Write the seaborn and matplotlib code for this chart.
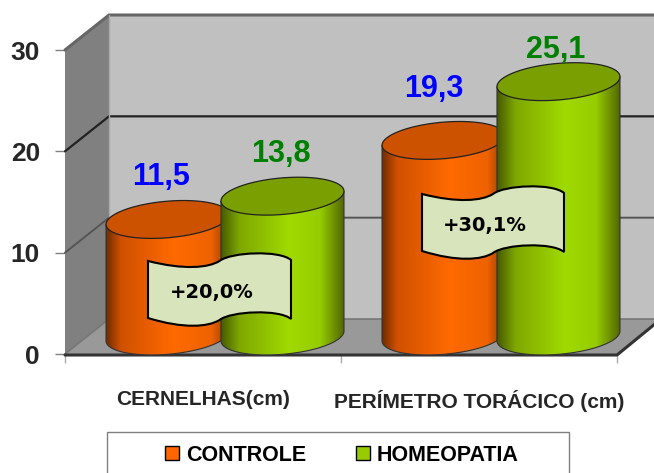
import matplotlib
matplotlib.use("Agg")
import matplotlib.pyplot as plt
import seaborn as sns
import numpy as np
import pandas as pd
from matplotlib.colors import LinearSegmentedColormap
from matplotlib.patches import Patch, PathPatch, Polygon, Rectangle
from matplotlib.path import Path
from matplotlib.transforms import Affine2D

# Chart values
categories = ["CERNELHAS(cm)", "PERÍMETRO TORÁCICO (cm)"]
series = ["CONTROLE", "HOMEOPATIA"]
controle = [11.5, 19.3]
homeopatia = [13.8, 25.1]
value_labels = [["11,5", "19,3"], ["13,8", "25,1"]]
y_ticks = [0, 10, 20, 30]
gains = ["+20,0%", "+30,1%"]

palette = {"CONTROLE": "#ff6600", "HOMEOPATIA": "#99cc00"}
top_colors = {"CONTROLE": "#cc5200", "HOMEOPATIA": "#7a9f00"}
label_colors = {"CONTROLE": "#0000ff", "HOMEOPATIA": "#008000"}
font = ["Liberation Sans", "DejaVu Sans"]

data = pd.DataFrame({
    "category": categories * 2,
    "series": [series[0]] * 2 + [series[1]] * 2,
    "value": controle + homeopatia,
})

sns.set_style("white")
W, H = 654, 473
fig = plt.figure(figsize=(W / 100, H / 100), dpi=100, facecolor="white")

# Everything decorative is placed in picture pixels, y going down
px = Affine2D().scale(1, -1).translate(0, H)


def axes_box(left, right, bottom, top):
    return [left / W, (H - bottom) / H, (right - left) / W, (bottom - top) / H]


# Front plane carries the axis, bars sit half way into the depth
ax = fig.add_axes(axes_box(65, 617, 354, 50))
ax_bars = fig.add_axes(axes_box(87, 639, 336, 32))
ax_bars.patch.set_alpha(0)

for a in (ax, ax_bars):
    a.set_xlim(-0.5, 1.5)
    a.set_ylim(0, 30)
    sns.despine(ax=a, left=True, bottom=True, top=True, right=True)
ax.patch.set_alpha(0)
ax.autoscale(False)

dx, dy = 44, -35
x0, x1 = 65, 617


def y_px(v):
    return H - ax.transData.transform((0, v))[1]


y0, y30 = y_px(0), y_px(30)
ax.add_patch(Polygon([(x0 + dx, y30 + dy), (x1 + dx, y30 + dy), (x1 + dx, y0 + dy), (x0 + dx, y0 + dy)],
                     fc="#c0c0c0", ec="none", transform=px, clip_on=False, zorder=1))
ax.add_patch(Polygon([(x0, y30), (x0 + dx, y30 + dy), (x0 + dx, y0 + dy), (x0, y0)],
                     fc="#808080", ec="none", transform=px, clip_on=False, zorder=1))
ax.add_patch(Polygon([(x0, y0), (x1, y0), (x1 + dx, y0 + dy), (x0 + dx, y0 + dy)],
                     fc="#999999", ec="none", transform=px, clip_on=False, zorder=1))

# Grid lines run across the back wall and down the side wall
grid_styles = {0: ("#777777", 1.2), 10: ("#555555", 1.4), 20: ("#222222", 1.6), 30: ("#666666", 2.2)}
for t in y_ticks:
    yy = y_px(t)
    col, lw = grid_styles[t]
    ax.plot([x0, x0 + dx, x1 + dx], [yy, yy + dy, yy + dy], color=col, lw=lw,
            transform=px, clip_on=False, zorder=2, solid_joinstyle="miter")
ax.plot([x0 + dx, x0 + dx], [y30 + dy, y0 + dy], color="#a8a8a8", lw=1, transform=px, clip_on=False, zorder=2)
ax.plot([x0, x1, x1 + dx], [y0 + 1, y0 + 1, y0 + dy], color="#333333", lw=2.2, transform=px, clip_on=False, zorder=3)

ax.set_yticks(y_ticks)
ax.set_yticklabels([str(t) for t in y_ticks], family=font, fontweight="bold", fontsize=19)
ax.set_xticks([0, 1])
ax.set_xticklabels(categories, family=font, fontweight="bold", fontsize=15)
ax.set_xticks([-0.5, 0.5, 1.5], minor=True)
ax.tick_params(axis="y", length=7, width=1, color="#808080", pad=11, left=True)
ax.tick_params(axis="x", which="major", length=0, pad=26)
ax.tick_params(axis="x", which="minor", length=6.5, width=1, color="#aaaaaa", bottom=True)

# Bars, whose geometry drives the cylinders
sns.barplot(data=data, x="category", y="value", hue="series", order=categories, hue_order=series,
            palette=palette, width=0.833, gap=-0.07, legend=False, ax=ax_bars)
ax_bars.set_xlim(-0.5, 1.5)
ax_bars.set_ylim(0, 30)
ax_bars.set_xlabel("")
ax_bars.set_ylabel("")
ax_bars.set_xticks([])
ax_bars.set_yticks([])
ax_bars.autoscale(False)
bars = list(ax_bars.patches)
for b in bars:
    b.set_visible(False)

orange_cmap = LinearSegmentedColormap.from_list(
    "o", [(0, "#6e2c00"), (0.12, "#d05000"), (0.55, "#ff6a00"), (0.85, "#ee6200"), (1, "#8c3a00")])
green_cmap = LinearSegmentedColormap.from_list(
    "g", [(0, "#465a00"), (0.15, "#7fa800"), (0.55, "#a0da00"), (0.8, "#96cc00"), (1, "#4f6400")])
cmaps = {"CONTROLE": orange_cmap, "HOMEOPATIA": green_cmap}


def ellipse_points(cx, cy, a, t):
    return np.column_stack([cx + a * np.cos(t), cy + 18.3 * np.sin(t) - 0.08 * a * np.cos(t)])


label_shift = [[(-6, 27), (-10, 36)], [(-2, 27), (-3, 17)]]
gradient = np.linspace(0, 1, 256).reshape(1, -1)
z = 5
for i, b in enumerate(bars):
    name = series[i // 2]
    k = i % 2
    left, base = ax_bars.transData.transform((b.get_x(), 0))
    right, top = ax_bars.transData.transform((b.get_x() + b.get_width(), b.get_height()))
    cx, a = (left + right) / 2, (right - left) / 2
    y_base, y_top = H - base, H - top

    low = ellipse_points(cx, y_base, a, np.linspace(np.pi, 0, 60))
    outline = np.vstack([[low[0][0], y_top + 0.08 * a], low, [low[-1][0], y_top - 0.08 * a]])
    body = PathPatch(Path(np.vstack([outline, outline[0]]), closed=True), fc="none", ec="#333333", lw=0.8,
                     transform=px, clip_on=False, zorder=z + 1)
    ax_bars.add_patch(body)
    im = ax_bars.imshow(gradient, cmap=cmaps[name], aspect="auto", transform=px,
                        extent=(left, right, y_base + 25, y_top - 10), zorder=z)
    im.set_clip_box(fig.bbox)
    im.set_clip_path(body)
    cap = ellipse_points(cx, y_top, a, np.linspace(0, 2 * np.pi, 90))
    ax_bars.add_patch(Polygon(cap, fc=top_colors[name], ec="#222222", lw=0.9, transform=px,
                              clip_on=False, zorder=z + 2))
    sx, sy = label_shift[i // 2][k]
    ax_bars.annotate(value_labels[i // 2][k], xy=(cx, y_top), xycoords=px, xytext=(sx, sy), textcoords="offset pixels",
                     ha="center", va="bottom", color=label_colors[name], fontsize=22, fontweight="bold",
                     family=font, zorder=40, annotation_clip=False)
    z += 3


# Wavy note shapes over the cylinders
def flag_path(l, r, t, b):
    w = r - l
    verts, codes = [(l, t)], [Path.MOVETO]
    verts += [(l + 0.25 * w, t + 9), (l + 0.42 * w, t + 7), (l + 0.5 * w, t)]
    verts += [(l + 0.58 * w, t - 9), (l + 0.92 * w, t - 11), (r, t - 1)]
    codes += [Path.CURVE4] * 6
    verts += [(r, b - 1)]
    codes += [Path.LINETO]
    verts += [(l + 0.92 * w, b - 11), (l + 0.58 * w, b - 9), (l + 0.5 * w, b)]
    verts += [(l + 0.42 * w, b + 7), (l + 0.25 * w, b + 9), (l, b - 2)]
    codes += [Path.CURVE4] * 6
    verts += [(l, t)]
    codes += [Path.CLOSEPOLY]
    return Path(verts, codes)


for box, gain in zip([(148, 291, 261, 320), (422, 564, 194, 253)], gains):
    ax_bars.add_patch(PathPatch(flag_path(*box), fc="#d8e4bc", ec="black", lw=1.5, transform=px,
                                clip_on=False, zorder=50))
    ax_bars.text((box[0] + box[1]) / 2 - 8, (box[2] + box[3]) / 2 + 2, gain, transform=px, ha="center", va="center",
                 fontsize=14, fontweight="bold", color="black", family="DejaVu Sans", zorder=51)

# Legend box runs past the lower edge of the picture as in the original
ax_bars.add_patch(Rectangle((107, 432), 462, 60, fc="white", ec="#808080", lw=1, transform=px,
                            clip_on=False, zorder=55))
handles = [Patch(fc=palette[s], ec="black", lw=1, label=s) for s in series]
leg = fig.legend(handles=handles, loc="center", bbox_to_anchor=(342 / W, (H - 455) / H), ncols=2, frameon=False,
                 handlelength=0.65, handleheight=0.65, handletextpad=0.33, columnspacing=2.3, borderpad=0,
                 borderaxespad=0, prop={"family": font, "weight": "bold", "size": 15.5})
leg.set_zorder(60)
for txt in leg.get_texts():
    txt.set_color("black")

fig.savefig("out.png", dpi=100)
